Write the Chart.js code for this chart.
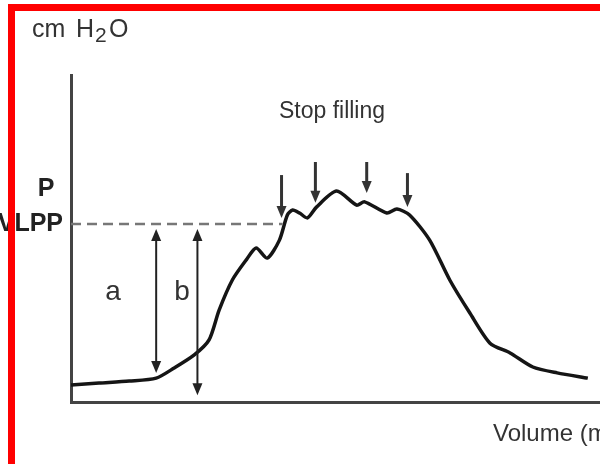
<!DOCTYPE html>
<html>
<head>
<meta charset="utf-8">
<script src="https://cdn.jsdelivr.net/npm/chart.js@4"></script>
<style>
  html, body { margin: 0; padding: 0; background: #fff; }
  #wrap { width: 600px; height: 464px; position: relative; }
</style>
</head>
<body>
<div id="wrap"><canvas id="chart" width="600" height="464"></canvas></div>
<script>
// pressure-volume trace (arbitrary units, 0..100 on both axes)
const volume = [0, 5.3, 11.0, 16.1, 19.5, 23.3, 26.1, 28.0, 30.5, 33.1, 35.0, 37.1, 39.4, 40.9, 41.9, 43.2, 44.7, 46.4, 50.2, 54.0, 55.5, 59.7, 61.6, 64.0, 67.8, 71.6, 75.4, 79.2, 83.0, 87.3, 91.9, 97.7];
const pressure = [5.2, 5.8, 6.4, 7.3, 10.4, 14.4, 19.0, 28.1, 37.3, 43.4, 47.1, 44.0, 49.5, 57.2, 58.7, 57.8, 56.3, 59.6, 64.5, 60.2, 61.2, 57.8, 59.0, 57.2, 49.5, 37.3, 27.2, 18.0, 15.0, 10.7, 8.9, 7.3];

// "stop filling" arrows: volume, arrow tip pressure, arrow tail pressure
const stopVolume = [39.8, 46.2, 55.9, 63.6];
const stopTip = [56.3, 60.9, 63.9, 59.6];
const stopTail = [69.4, 73.4, 73.4, 70.0];

// VLPP level and the two measurements a / b
const vlpp = 54.4;
const vlppEnd = 40;
const measureNames = ["a", "b"];
const measureVolume = [16.1, 23.9];
const measureBottom = [8.9, 2.1];

const FONT = '"Liberation Sans", Arial, Helvetica, sans-serif';

function arrowHead(ctx, x, y, dir, w, len) {
    // dir 1 = pointing down, -1 = pointing up
    ctx.beginPath();
    ctx.moveTo(x, y);
    ctx.lineTo(x - w / 2, y - dir * len);
    ctx.lineTo(x + w / 2, y - dir * len);
    ctx.closePath();
    ctx.fill();
}

const annotations = {
    id: "annotations",
    afterDatasetsDraw(chart) {
        const ctx = chart.ctx;
        const xs = chart.scales.x;
        const ys = chart.scales.y;
        ctx.save();

        // dashed VLPP line
        const yv = ys.getPixelForValue(vlpp);
        ctx.strokeStyle = "#777";
        ctx.lineWidth = 2.5;
        ctx.setLineDash([10, 6]);
        ctx.beginPath();
        ctx.moveTo(xs.getPixelForValue(0), yv);
        ctx.lineTo(xs.getPixelForValue(vlppEnd), yv);
        ctx.stroke();
        ctx.setLineDash([]);

        // a / b double arrows
        ctx.strokeStyle = "#222";
        ctx.fillStyle = "#222";
        ctx.lineWidth = 2;
        measureVolume.forEach((v, i) => {
            const x = xs.getPixelForValue(v);
            const top = yv + 5;
            const bot = ys.getPixelForValue(measureBottom[i]);
            ctx.beginPath();
            ctx.moveTo(x, top + 8);
            ctx.lineTo(x, bot - 8);
            ctx.stroke();
            arrowHead(ctx, x, top, -1, 10, 12);
            arrowHead(ctx, x, bot, 1, 10, 12);
        });

        // stop filling arrows
        ctx.strokeStyle = "#333";
        ctx.fillStyle = "#333";
        ctx.lineWidth = 3;
        stopVolume.forEach((v, i) => {
            const x = xs.getPixelForValue(v);
            const tip = ys.getPixelForValue(stopTip[i]);
            const tail = ys.getPixelForValue(stopTail[i]);
            ctx.beginPath();
            ctx.moveTo(x, tail);
            ctx.lineTo(x, tip - 6);
            ctx.stroke();
            arrowHead(ctx, x, tip, 1, 10, 12);
        });

        // texts
        ctx.fillStyle = "#333";
        ctx.textBaseline = "alphabetic";
        ctx.textAlign = "left";
        ctx.font = "25px " + FONT;
        ctx.fillText("cm", 32, 37);
        ctx.fillText("H", 76, 37);
        ctx.fillText("O", 109, 37);
        ctx.font = "21px " + FONT;
        ctx.fillText("2", 95, 42);

        ctx.font = "23px " + FONT;
        ctx.textAlign = "center";
        ctx.fillText("Stop filling", 332, 118);

        ctx.font = "28px " + FONT;
        ctx.fillText(measureNames[0], 113, 300);
        ctx.fillText(measureNames[1], 182, 300);

        ctx.fillStyle = "#222";
        ctx.font = "bold 25px " + FONT;
        ctx.fillText("P", 46, 196);
        ctx.textAlign = "right";
        ctx.fillText("VLPP", 63, 231);

        ctx.fillStyle = "#333";
        ctx.textAlign = "left";
        ctx.font = "24px " + FONT;
        ctx.fillText("Volume (ml)", 493, 441);

        // red frame
        ctx.fillStyle = "#ff0000";
        ctx.fillRect(8, 4, 592, 7);
        ctx.fillRect(8, 4, 7, 460);

        ctx.restore();
    },
};

const points = volume.map((v, i) => ({ x: v, y: pressure[i] }));

new Chart(document.getElementById("chart").getContext("2d"), {
    type: "line",
    data: {
        datasets: [
            {
                data: points,
                borderColor: "#151515",
                borderWidth: 3.5,
                pointRadius: 0,
                tension: 0.25,
                fill: false,
            },
        ],
    },
    options: {
        responsive: false,
        animation: false,
        layout: {
            padding: { left: 71, right: 0, top: 75, bottom: 62 },
        },
        plugins: {
            legend: { display: false },
            tooltip: { enabled: false },
        },
        scales: {
            x: {
                type: "linear",
                min: 0,
                max: 100,
                ticks: { display: false },
                grid: { display: false, drawTicks: false, tickLength: 0 },
                border: { display: true, color: "#444", width: 3 },
            },
            y: {
                type: "linear",
                min: 0,
                max: 100,
                ticks: { display: false },
                grid: { display: false, drawTicks: false, tickLength: 0 },
                border: { display: true, color: "#444", width: 3 },
            },
        },
    },
    plugins: [annotations],
});
</script>
</body>
</html>
